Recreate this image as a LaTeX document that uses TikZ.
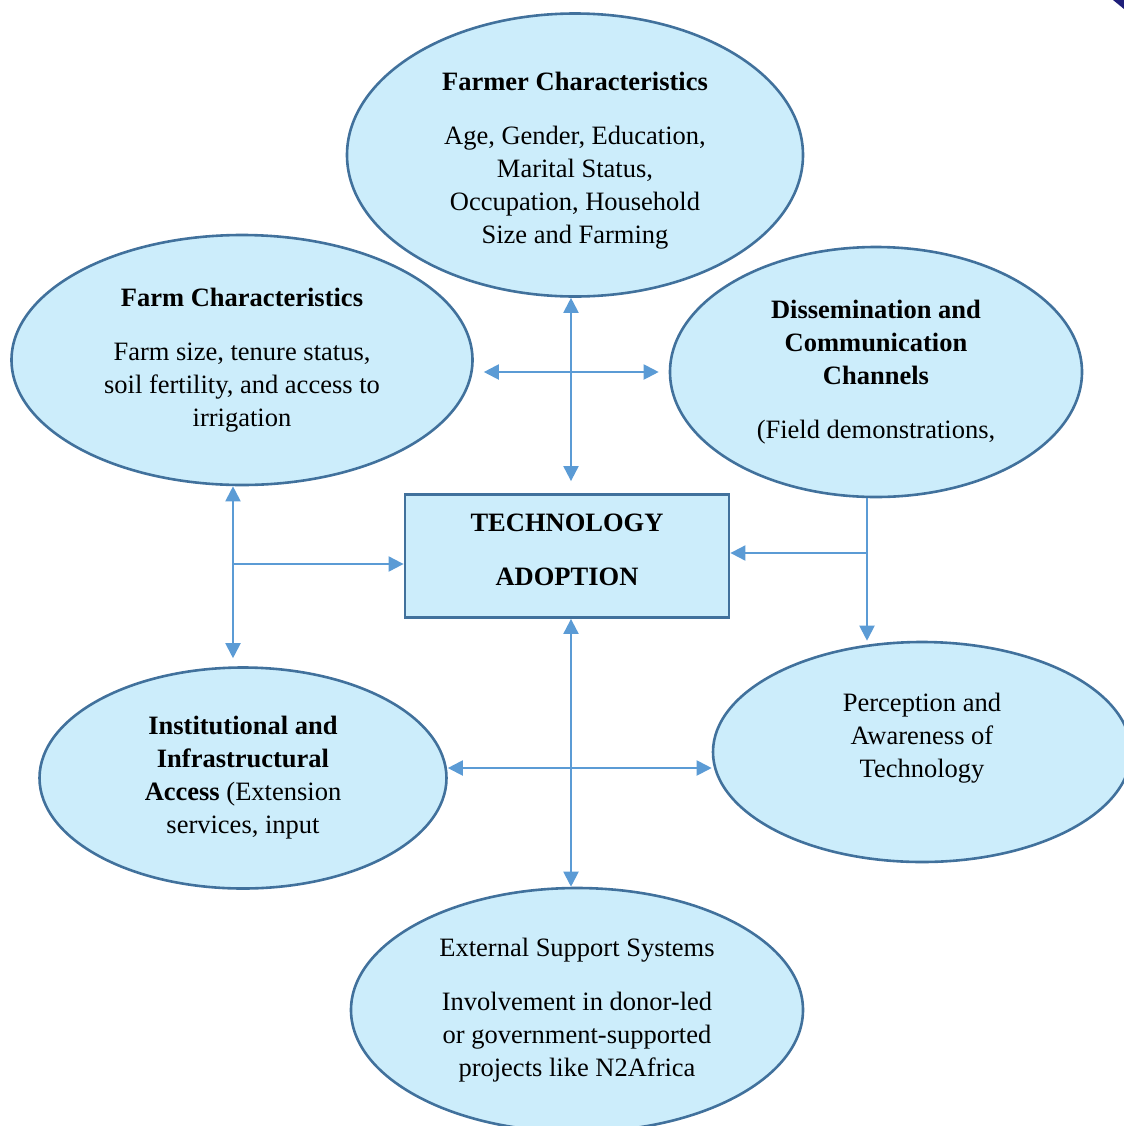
\documentclass[tikz,border=0pt]{standalone}
\usepackage{fontspec}
\setmainfont{Liberation Serif}
\usetikzlibrary{shapes.geometric,arrows.meta}
\definecolor{bubble}{HTML}{CCEDFB}
\definecolor{rim}{HTML}{41719C}
\definecolor{link}{HTML}{5B9BD5}
\definecolor{corner}{HTML}{1F1F7A}

\begin{document}
\begin{tikzpicture}[x=0.5pt,y=-0.5pt]
                % Define styles for different elements
                \tikzstyle{factor} = [ellipse, draw=rim, line width=1.3pt, fill=bubble, inner sep=0pt, align=center, font=\fontsize{13.25}{16.5}\selectfont]
                \tikzstyle{core} = [rectangle, draw=rim, line width=1.4pt, fill=bubble, minimum width=162pt, minimum height=61.5pt, align=center, font=\fontsize{13.25}{16.5}\selectfont]
                \tikzstyle{twoway} = [draw=link, line width=1pt, {Triangle[length=7.5pt,width=7.5pt]}-{Triangle[length=7.5pt,width=7.5pt]}]
                \tikzstyle{oneway} = [draw=link, line width=1pt, -{Triangle[length=7.5pt,width=7.5pt]}]

                \useasboundingbox (0,0) rectangle (1124,1126);

                % Draw the factors round the centre
                \node[factor, minimum width=228pt, minimum height=141.5pt] (farmer) at (575,155)
                    {\rule{0pt}{15pt}\textbf{Farmer Characteristics}\\[10.5pt] Age, Gender, Education,\\ Marital Status,\\ Occupation, Household\\ Size and Farming};
                \node[factor, minimum width=230.5pt, minimum height=125pt] (farm) at (242,360)
                    {\textbf{Farm Characteristics}\\[10.5pt] Farm size, tenure status,\\ soil fertility, and access to\\ irrigation};
                \node[factor, minimum width=206pt, minimum height=125pt] (dissem) at (876,372)
                    {\textbf{Dissemination and}\\ \textbf{Communication}\\ \textbf{Channels}\\[10.5pt] (Field demonstrations,};
                \node[factor, minimum width=203.5pt, minimum height=110.5pt] (inst) at (243,778)
                    {\textbf{Institutional and}\\ \textbf{Infrastructural}\\ \textbf{Access} (Extension\\ services, input};
                \node[factor, minimum width=209pt, minimum height=110pt] (percep) at (922,752)
                    {Perception and\\ Awareness of\\ Technology\\ \mbox{}};
                \node[factor, minimum width=226pt, minimum height=122pt] (extsup) at (577,1010)
                    {External Support Systems\\[10.5pt] Involvement in donor-led\\ or government-supported\\ projects like N2Africa};

                % Centre box
                \node[core] (tech) at (567,556) {\textbf{TECHNOLOGY}\\[10.5pt]\textbf{ADOPTION}\rule[-6pt]{0pt}{6pt}};

                % Junctions of the connectors
                \coordinate (tjoin) at (571,372);
                \coordinate (ljoin) at (233,564);
                \coordinate (rjoin) at (867,553);
                \coordinate (bjoin) at (571,768);

                % Connect the nodes
                \draw[twoway, shorten >=6pt] (farmer.south -| tjoin) -- (tech.north -| tjoin);
                \draw[twoway, shorten <=5pt, shorten >=5pt] (farm.east |- tjoin) -- (dissem.west |- tjoin);
                \draw[twoway, shorten >=4pt] (farm.south -| ljoin) -- (inst.north -| ljoin);
                \draw[oneway] (ljoin) -- (tech.west |- ljoin);
                \draw[oneway] (dissem.south -| rjoin) -- (percep.north -| rjoin);
                \draw[oneway] (rjoin) -- (tech.east |- rjoin);
                \draw[twoway] (tech.south -| bjoin) -- (extsup.north -| bjoin);
                \draw[twoway] (inst.east |- bjoin) -- (percep.west |- bjoin);

                % Corner mark
                \fill[corner] (1113,0) -- (1124,0) -- (1124,9) -- cycle;
\end{tikzpicture}
\end{document}
